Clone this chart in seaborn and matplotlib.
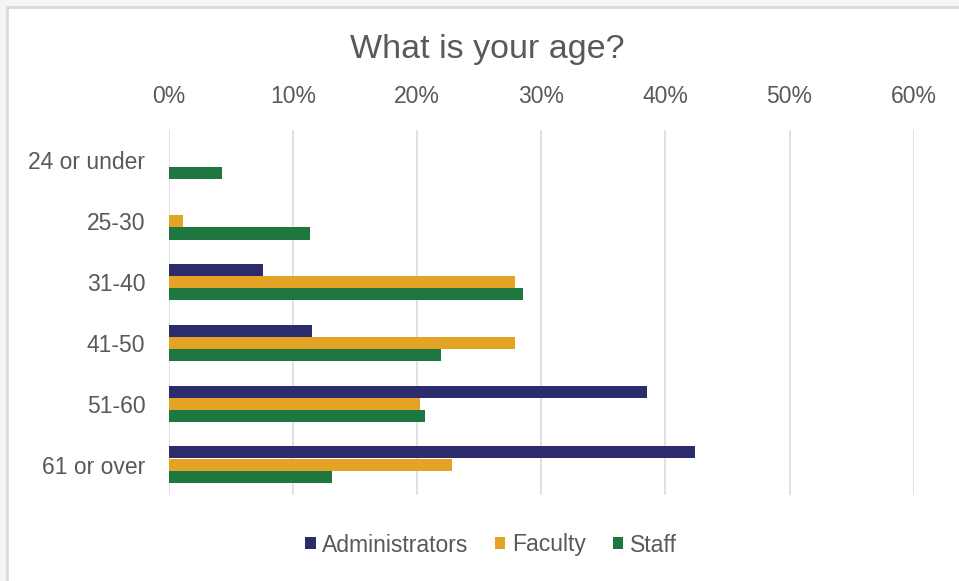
import pandas as pd
import seaborn as sns
import matplotlib.pyplot as plt
from matplotlib.patches import Rectangle
from matplotlib.ticker import PercentFormatter

# Данные опроса (доли)
age_groups = ['24 or under', '25-30', '31-40', '41-50', '51-60', '61 or over']
administrators = [0.0, 0.0, 0.076, 0.115, 0.385, 0.424]
faculty = [0.0, 0.011, 0.279, 0.279, 0.202, 0.228]
staff = [0.043, 0.114, 0.285, 0.219, 0.206, 0.131]
series_names = ['Administrators', 'Faculty', 'Staff']
colors = ['#2C2B6B', '#E5A325', '#1E773E']

# Длинный формат для seaborn
df = pd.DataFrame({
    'age': age_groups * 3,
    'share': administrators + faculty + staff,
    'group': [s for s in series_names for _ in age_groups],
})

sns.set_theme(style='white')
plt.rcParams['font.family'] = ['Liberation Sans', 'DejaVu Sans']
text_color = '#595959'

fig = plt.figure(figsize=(9.59, 5.81), dpi=100)
fig.patch.set_facecolor('#f4f4f4')
# белая рамка диаграммы (под осями)
fig.patches.append(Rectangle((7 / 959, -0.1), 1.2, 1.1 - 7 / 581,
                             transform=fig.transFigure, facecolor='white',
                             edgecolor='#d9d9d9', lw=2, zorder=-1))

ax = fig.add_axes([169 / 959, 1 - 495 / 581, (913.7 - 169) / 959, 365 / 581])
ax.set_zorder(1)
ax.set_facecolor('none')

sns.barplot(data=df, x='share', y='age', hue='group', order=age_groups,
            hue_order=series_names, palette=colors, orient='h', width=0.6,
            saturation=1, linewidth=0, ax=ax)

ax.set_xlim(0, 0.6)
ax.set_ylim(5.5, -0.5)
ax.xaxis.set_major_formatter(PercentFormatter(1.0, decimals=0))
ax.xaxis.tick_top()
ax.set_xticks([0, 0.1, 0.2, 0.3, 0.4, 0.5, 0.6])
ax.grid(axis='x', color='#d9d9d9', lw=1.1)
ax.set_axisbelow(True)
for side in ax.spines.values():
    side.set_visible(False)
ax.tick_params(axis='x', length=0, pad=16, labelsize=16.5, labelcolor=text_color)
ax.tick_params(axis='y', length=0, pad=17, labelsize=16.5, labelcolor=text_color)
ax.set_xlabel('')
ax.set_ylabel('')

# легенда внизу
handles, labels = ax.get_legend_handles_labels()
ax.get_legend().remove()
fig.legend(handles, labels, loc='center', bbox_to_anchor=(491 / 959, 1 - 545 / 581),
           ncol=3, frameon=False, fontsize=16.5, labelcolor=text_color,
           handlelength=0.45, handleheight=0.45, handletextpad=0.3,
           columnspacing=1.15)

fig.text(487 / 959, 1 - 58 / 581, 'What is your age?', ha='center', va='baseline',
         fontsize=24.5, color=text_color)

fig.savefig('out.png', dpi=100, facecolor=fig.get_facecolor())
